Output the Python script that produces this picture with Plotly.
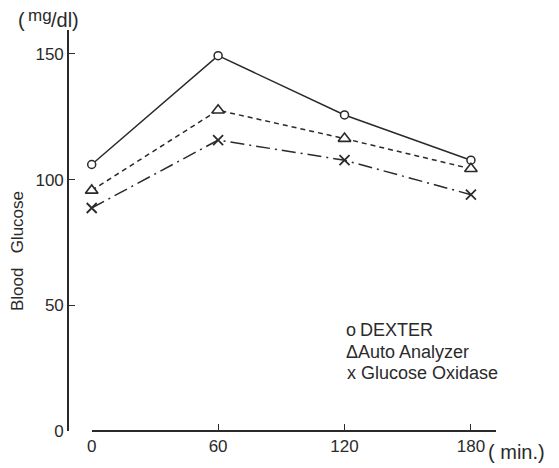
import plotly.graph_objects as go

minutes = [0, 60, 120, 180]
dexter = [106, 149.3, 125.7, 107.7]
auto_analyzer = [95.7, 127.6, 116.3, 104.3]
glucose_oxidase = [88.7, 115.7, 107.7, 94]

x_ticks = [0, 60, 120, 180]
y_ticks = [0, 50, 100, 150]

ink = "#2a2a2a"
font = "Liberation Sans, Arial, sans-serif"

fig = go.Figure()

fig.add_trace(go.Scatter(
    x=minutes, y=dexter, mode="lines+markers", name="DEXTER", cliponaxis=False,
    line=dict(color=ink, width=1.5, dash="solid"),
    marker=dict(symbol="circle", size=8, color="white", line=dict(color=ink, width=1.5)),
))
fig.add_trace(go.Scatter(
    x=minutes, y=auto_analyzer, mode="lines+markers", name="Auto Analyzer", cliponaxis=False,
    line=dict(color=ink, width=1.5, dash="5px,4px"),
    marker=dict(symbol="triangle-up", size=11, color="white", line=dict(color=ink, width=1.6)),
))
fig.add_trace(go.Scatter(
    x=minutes, y=glucose_oxidase, mode="lines+markers", name="Glucose Oxidase", cliponaxis=False,
    line=dict(color=ink, width=1.5, dash="14px,5px,2px,5px"),
    marker=dict(symbol="x-thin", size=10, color=ink, line=dict(color=ink, width=1.8)),
))

W, H = 559, 468
ml, mr, mt, mb = 68, 63, 30, 37
pw = W - ml - mr
ph = H - mt - mb
x0_px = 91.7
xdom0 = (x0_px - ml) / pw


def px(x):
    return (x - ml) / pw


def py(y):
    return (H - mb - y) / ph


fig.update_layout(
    width=W, height=H,
    margin=dict(l=ml, r=mr, t=mt, b=mb),
    paper_bgcolor="white", plot_bgcolor="white",
    showlegend=False,
    font=dict(family=font, color=ink),
    xaxis=dict(
        domain=[xdom0, 1], range=[0, 191.9],
        tickvals=x_ticks, ticktext=[str(v) for v in x_ticks],
        showline=True, linecolor=ink, linewidth=1.6,
        ticks="inside", ticklen=6, tickwidth=1.4, tickcolor=ink,
        showgrid=False, zeroline=False,
        tickfont=dict(size=17, color=ink),
        anchor="free", position=0,
    ),
    yaxis=dict(
        range=[0, 159.5],
        tickvals=y_ticks, ticktext=[str(v) for v in y_ticks],
        showline=True, linecolor=ink, linewidth=1.6,
        ticks="inside", ticklen=6, tickwidth=1.4, tickcolor=ink,
        showgrid=False, zeroline=False,
        tickfont=dict(size=17, color=ink),
        anchor="free", position=0,
    ),
)

ann = [
    dict(text="(", x=px(16), y=py(20), xanchor="left", yanchor="middle", font=dict(size=20)),
    dict(text="mg", x=px(26), y=py(15), xanchor="left", yanchor="middle", font=dict(size=17)),
    dict(text="/dl)", x=px(49), y=py(20), xanchor="left", yanchor="middle", font=dict(size=20)),
    dict(text="Blood\u00a0\u00a0\u00a0Glucose", x=px(17), y=py(251), xanchor="center",
         yanchor="middle", textangle=-90, font=dict(size=17)),
    dict(text="( min.)", x=px(486), y=py(452), xanchor="left", yanchor="middle",
         font=dict(size=20)),
    dict(text="\u1d0f", x=px(344), y=py(330), xanchor="left", yanchor="middle",
         font=dict(size=18)),
    dict(text="DEXTER", x=px(358), y=py(330), xanchor="left", yanchor="middle",
         font=dict(size=18)),
    dict(text="\u0394Auto Analyzer", x=px(344), y=py(352), xanchor="left", yanchor="middle",
         font=dict(size=18)),
    dict(text="x Glucose Oxidase", x=px(345), y=py(373), xanchor="left", yanchor="middle",
         font=dict(size=18)),
]
for a in ann:
    a.update(xref="paper", yref="paper", showarrow=False)
fig.update_layout(annotations=ann)

fig.write_html("out.html")
